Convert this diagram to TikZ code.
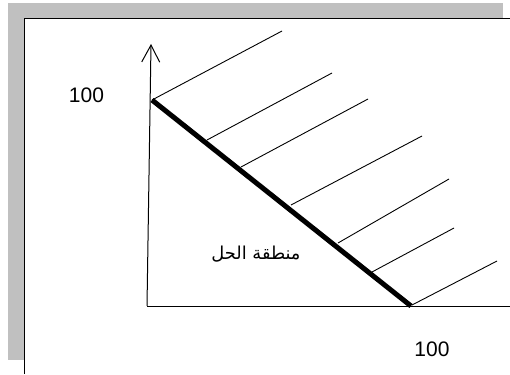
\documentclass[tikz,border=0pt]{standalone}
\usepackage{fontspec}
\setmainfont{Liberation Sans}
\newfontfamily\arabicfont[Script=Arabic]{DejaVu Sans}
\TeXXeTstate=1
\usetikzlibrary{arrows.meta}
\definecolor{shadowgray}{RGB}{192,192,192}
\tikzset{
  hatch/.style={line width=0.9pt},
  bound/.style={line width=5pt},
  axis/.style={line width=1pt},
  lbl/.style={font=\fontsize{21}{24}\selectfont, inner sep=0pt}
}

\begin{document}
\begin{tikzpicture}[x=1pt,y=-1pt]
    \useasboundingbox (0,0) rectangle (510,374);
    % frame with shadow
    \fill[shadowgray] (8,3) rectangle (503,360);
    \fill[white] (24,18) rectangle (510,374);
    \draw[line width=1.4pt] (24.5,374) -- (24.5,18.7) -- (510,18.7);
    % axes
    \coordinate (O) at (147,306);
    \coordinate (ytip) at (151,44);
    \coordinate (xend) at (510,306);
    \draw[axis, -{Straight Barb[length=17pt,width=18pt,line width=1pt]}] (O) -- (ytip);
    \draw[axis] (O) -- (xend);
    % boundary line
    \coordinate (A) at (152,100);
    \coordinate (B) at (411,306);
    \draw[bound] (A) -- (B);
    % hatching
    \foreach \sx/\sy/\ex/\ey in {152/100/282/31, 207/140/332/73, 241/167/368/99,
        291/205/422/136, 338/243/449/179, 372/272/454/228, 412/305/497/261}
      \draw[hatch] (\sx,\sy) -- (\ex,\ey);
    % labels
    \node[lbl] (ylab) at (86.5,95.5) {100};
    \node[lbl] (xlab) at (432,349) {100};
    \node[inner sep=0pt, font=\fontsize{17.8}{20}\selectfont] (region) at (256,254)
      {\arabicfont\beginR منطقة الحل\endR};
\end{tikzpicture}
\end{document}
